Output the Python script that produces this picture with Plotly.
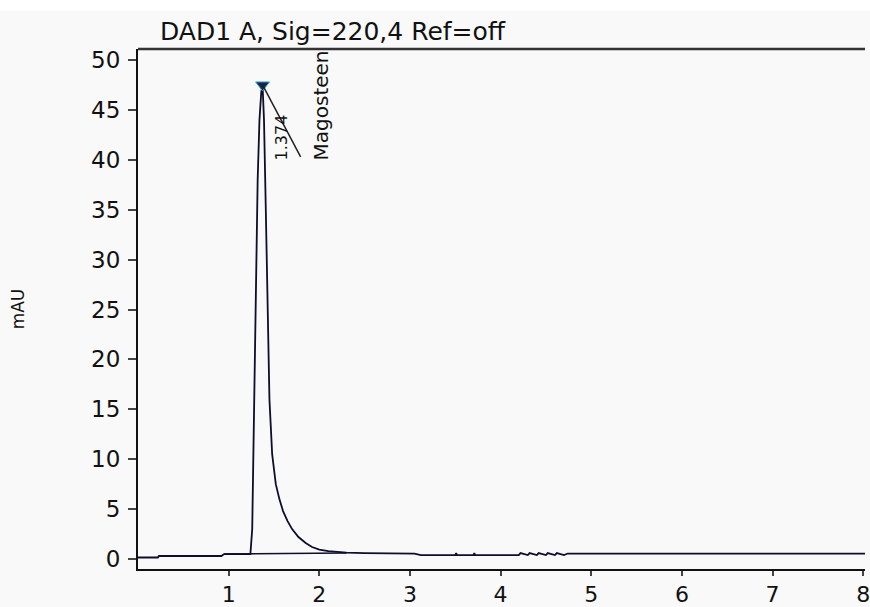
import plotly.graph_objects as go

# Chromatogram trace (time in min, signal in mAU)
time_min = [0.0, 0.22, 0.23, 0.92, 0.95, 1.24, 1.26, 1.28, 1.30, 1.32, 1.34, 1.36, 1.374,
            1.39, 1.41, 1.43, 1.45, 1.48, 1.52, 1.56, 1.60, 1.65, 1.70, 1.77, 1.85,
            1.92, 2.0, 2.1, 2.2, 2.3, 2.5, 3.05, 3.12, 3.5, 3.51, 3.52, 3.7, 3.71, 3.72,
            4.2, 4.22, 4.3, 4.32, 4.4, 4.42, 4.5, 4.52, 4.6, 4.62, 4.7, 4.74, 5.0, 6.0, 7.0, 8.2]
signal_mau = [0.15, 0.15, 0.3, 0.3, 0.5, 0.5, 3.0, 14.0, 28.0, 38.0, 44.0, 46.8, 47.5,
              44.0, 35.0, 24.0, 16.0, 10.5, 7.5, 6.0, 4.8, 3.8, 3.0, 2.2, 1.6,
              1.2, 0.95, 0.8, 0.7, 0.65, 0.6, 0.55, 0.4, 0.4, 0.6, 0.4, 0.4, 0.6, 0.4,
              0.4, 0.6, 0.4, 0.6, 0.4, 0.6, 0.4, 0.6, 0.4, 0.6, 0.4, 0.55, 0.55, 0.55, 0.55, 0.55]

# Integration baseline under the peak
base_time = [0.95, 2.3]
base_mau = [0.5, 0.6]

# Peak annotation
peak_time = [1.374]
peak_mau = [47.5]
peak_name = "Magosteen"

x_ticks = [1, 2, 3, 4, 5, 6, 7, 8]
y_ticks = [0, 5, 10, 15, 20, 25, 30, 35, 40, 45, 50]

LINE = "#0d0d2e"
FONT = "DejaVu Sans"

fig = go.Figure()
fig.add_trace(go.Scatter(x=time_min, y=signal_mau, mode="lines",
                         line=dict(color=LINE, width=1.8), hoverinfo="skip"))
fig.add_trace(go.Scatter(x=base_time, y=base_mau, mode="lines",
                         line=dict(color=LINE, width=1.4), hoverinfo="skip"))
fig.add_trace(go.Scatter(x=peak_time, y=peak_mau, mode="markers",
                         marker=dict(symbol="triangle-down", size=12, color="#16244e",
                                     line=dict(color="#3aa8c8", width=1)),
                         hoverinfo="skip"))

# leader line from peak toward retention-time label
fig.add_shape(type="line", xref="x", yref="y",
              x0=peak_time[0], y0=peak_mau[0],
              x1=peak_time[0] + 0.42, y1=peak_mau[0] - 7.2,
              line=dict(color="#222", width=1.5))

fig.add_annotation(x=peak_time[0], y=peak_mau[0], xref="x", yref="y",
                   text=f"{peak_time[0]:.3f}", showarrow=False, textangle=-90,
                   xshift=19, yshift=-53, font=dict(size=16, color="#111", family=FONT))
fig.add_annotation(x=peak_time[0], y=peak_mau[0], xref="x", yref="y",
                   text=peak_name, showarrow=False, textangle=-90,
                   xshift=58, yshift=-21, font=dict(size=20, color="#111", family=FONT))

# white strip at very top
fig.add_shape(type="rect", xref="paper", yref="paper", x0=-0.5, x1=1.5, y0=1.074, y1=1.2,
              fillcolor="white", line=dict(width=0), layer="below")

fig.update_layout(
    width=870, height=607,
    margin=dict(l=138, r=0, t=49, b=30),
    paper_bgcolor="#f9f9f9", plot_bgcolor="#f9f9f9",
    showlegend=False,
    font=dict(family=FONT, size=23, color="#111"),
    title=dict(text="DAD1 A, Sig=220,4 Ref=off", x=160 / 870, xanchor="left",
               y=1 - 31 / 607, yanchor="middle", font=dict(size=25, color="#111")),
)
fig.update_xaxes(range=[0, 8.02], tickvals=x_ticks, ticks="outside", ticklen=5,
                 tickwidth=1.5, showline=True, linecolor="#111", linewidth=2,
                 mirror=False, showgrid=False, zeroline=False,
                 tickfont=dict(size=22), ticklabeloverflow="allow")
fig.update_yaxes(range=[-1.0, 51.1], tickvals=y_ticks, ticks="outside", ticklen=8,
                 tickwidth=1.5, showline=True, linecolor="#111", linewidth=2,
                 showgrid=False, zeroline=False, tickfont=dict(size=23),
                 ticklabelstandoff=3,
                 title=dict(text="mAU", font=dict(size=17), standoff=62))
# top border line
fig.add_shape(type="line", xref="paper", yref="paper", x0=0, x1=1, y0=1, y1=1,
              line=dict(color="#333", width=2.5))

fig.write_html("out.html", config={"displayModeBar": False},
               post_script="document.body.style.margin='0';document.body.style.overflow='hidden';")
